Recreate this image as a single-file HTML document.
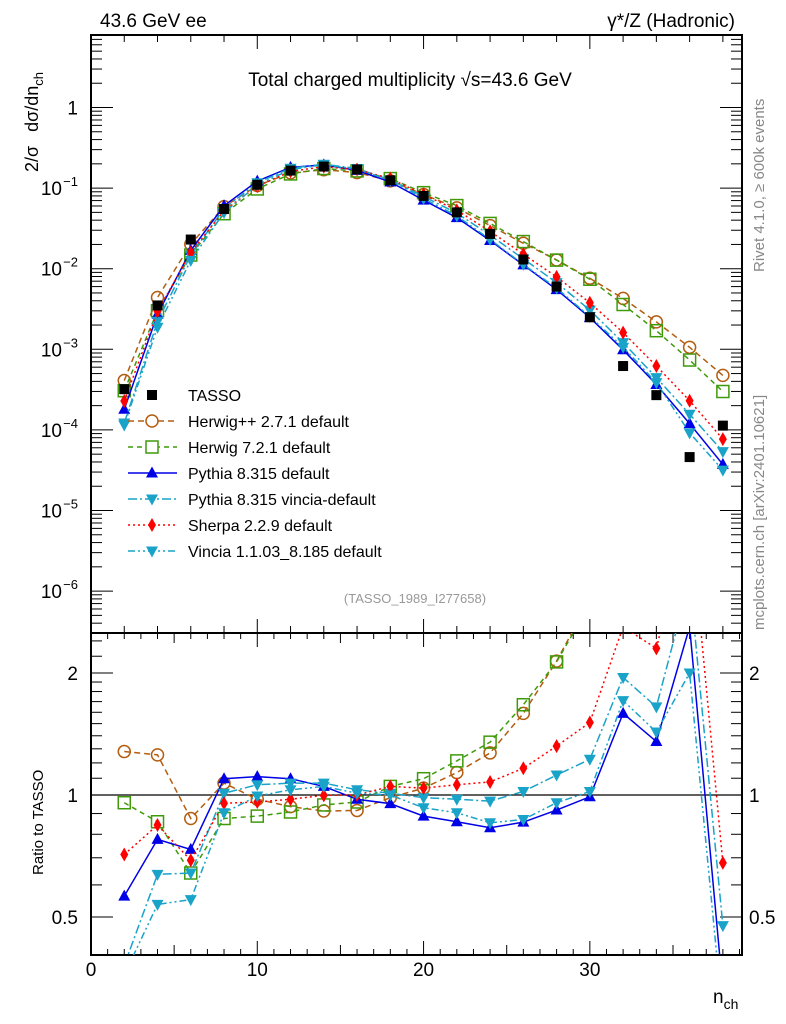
<!DOCTYPE html>
<html><head><meta charset="utf-8"><style>
html,body{margin:0;padding:0;background:#fff;}
svg{display:block;font-family:"Liberation Sans",sans-serif;}
</style></head><body>
<svg id="chart" width="786" height="1024" viewBox="0 0 786 1024" xmlns="http://www.w3.org/2000/svg">
<defs>
<clipPath id="clipMain"><rect x="91" y="35" width="651" height="598"/></clipPath>
<clipPath id="clipRatio"><rect x="91" y="633" width="651" height="322"/></clipPath>
</defs>
<rect x="91" y="35" width="651" height="598" fill="none" stroke="#000" stroke-width="2"/>
<rect x="91" y="633" width="651" height="322" fill="none" stroke="#000" stroke-width="2"/>
<g id="plotgroup"></g>
<text x="100" y="27" font-size="19">43.6 GeV ee</text>
<text x="735" y="27" font-size="19" text-anchor="end">γ*/Z (Hadronic)</text>
<text x="410" y="86" font-size="19" text-anchor="middle">Total charged multiplicity √s=43.6 GeV</text>
<text transform="translate(38,172) rotate(-90)" font-size="18"><tspan>2/σ</tspan><tspan dx="14">dσ/dn</tspan><tspan font-size="13" dy="5">ch</tspan></text>
<text transform="translate(43,875) rotate(-90)" font-size="15">Ratio to TASSO</text>
<text transform="translate(764,272) rotate(-90)" font-size="15" fill="#888">Rivet 4.1.0, ≥ 600k events</text>
<text transform="translate(764,630) rotate(-90)" font-size="15" fill="#888">mcplots.cern.ch [arXiv:2401.10621]</text>
<text x="415" y="603" font-size="13" fill="#999" text-anchor="middle">(TASSO_1989_I277658)</text>
<text x="713" y="1003" font-size="19">n<tspan font-size="14" dy="6">ch</tspan></text>
</svg>
<script>
var xVals = [2,4,6,8,10,12,14,16,18,20,22,24,26,28,30,32,34,36,38];
var tassoVals = [3.2e-4,3.5e-3,2.3e-2,5.5e-2,0.11,0.165,0.185,0.17,0.125,0.08,0.05,0.027,0.013,0.006,0.0025,6.2e-4,2.7e-4,4.6e-5,1.13e-4];
var herwigppRatio = [1.28,1.256,0.875,1.07,0.976,0.936,0.913,0.916,0.985,1.04,1.136,1.27,1.59,2.14,3.04,6.9,8.1,23,4.2];
var herwig7Ratio = [0.957,0.859,0.642,0.875,0.887,0.908,0.945,0.961,1.05,1.097,1.214,1.35,1.67,2.13,2.96,5.8,6.3,16,2.65];
var pythiaRatio = [0.563,0.777,0.734,1.097,1.11,1.097,1.05,0.976,0.952,0.887,0.859,0.83,0.857,0.918,0.99,1.59,1.355,2.6,0.33];
var pythiaVinciaRatio = [0.38,0.637,0.642,1.01,1.06,1.07,1.07,1.03,1.01,0.985,0.976,0.966,1.02,1.12,1.225,1.95,1.65,3.4,0.476];
var sherpaRatio = [0.713,0.843,0.69,0.954,0.961,0.976,0.998,1.0,1.05,1.04,1.06,1.077,1.164,1.32,1.51,2.6,2.3,5.0,0.68];
var vinciaRatio = [0.36,0.537,0.552,0.904,0.994,1.03,1.05,1.01,1.0,0.93,0.904,0.854,0.87,0.957,1.02,1.71,1.43,2.0,0.28];
var xTickLabels = [0,10,20,30];
var yDecades = [0,-1,-2,-3,-4,-5,-6];
var ratioLabels = [0.5,1,2];

(function(){
var NSU='http://www.w3.org/2000/svg';
var root=document.getElementById('plotgroup');
var PL=91,PR=742,PT=35,PMB=633,PRB=955;
function xs(v){return PL+v*(PR-PL)/39.15;}
function ym(v){return 107.5-80.6*Math.log(v)/Math.LN10;}
function yr(v){return 795-122*Math.log(v)/Math.LN2;}
function mk(tag,attrs,parent){var el=document.createElementNS(NSU,tag);for(var k in attrs){el.setAttribute(k,String(attrs[k]));}(parent||root).appendChild(el);return el;}
function txt(x,y,size,anchor,content,parent){var el=mk('text',{x:x,y:y,'font-size':size,'text-anchor':anchor},parent);el.textContent=content;return el;}

try{
var tk=mk('g',{stroke:'#000','stroke-width':1});


for(var v=1;v<=39;v++){
  var X=xs(v);var major=v%10===0;var med=v%2===0;
  var lm=major?14:(med?7:0);
  if(lm){mk('line',{x1:X,y1:PT,x2:X,y2:PT+lm},tk);mk('line',{x1:X,y1:PMB,x2:X,y2:PMB-lm},tk);}
  var lr=major?14:(v%5===0?10:6);
  mk('line',{x1:X,y1:PMB,x2:X,y2:PMB+lr},tk);mk('line',{x1:X,y1:PRB,x2:X,y2:PRB-lr},tk);
}
for(var d=-7;d<=0;d++){for(var m=1;m<=9;m++){var val=m*Math.pow(10,d);var Y=ym(val);if(Y<PT||Y>PMB)continue;
 var len=m===1?22:11;mk('line',{x1:PL,y1:Y,x2:PL+len,y2:Y},tk);mk('line',{x1:PR,y1:Y,x2:PR-len,y2:Y},tk);}}
[0.4,0.5,0.6,0.7,0.8,0.9,1,1.1,1.2,1.3,1.4,1.5,1.6,1.7,1.8,1.9,2,2.2,2.4].forEach(function(rv){var Yr=yr(rv);if(Yr<PMB||Yr>PRB)return;
 var ln=(rv===0.5||rv===1||rv===2)?22:11;mk('line',{x1:PL,y1:Yr,x2:PL+ln,y2:Yr},tk);mk('line',{x1:PR,y1:Yr,x2:PR-ln,y2:Yr},tk);});
}catch(err){}

try{
xTickLabels.forEach(function(v){var el=txt(xs(v),976,19,'middle',String(v));

});
yDecades.forEach(function(d){var Y=ym(Math.pow(10,d));var el;
 if(d===0){el=txt(78,Y+7,19,'end','1');}
 else{el=txt(62,Y+7,19,'end','10');var sp=txt(78,Y-2,13,'end','\u2212'+(-d));
  
  }
 
 });
ratioLabels.forEach(function(v){[[78,'end'],[749,'start']].forEach(function(p){var el=txt(p[0],yr(v)+7,19,p[1],String(v));
 
 });});
var refl=mk('line',{x1:PL,y1:yr(1),x2:PR,y2:yr(1),stroke:'#000','stroke-width':1.3});


}catch(err){}

function marker(p,type,color,x,y){
  if(type==='sq')return mk('rect',{x:x-5,y:y-5,width:10,height:10,fill:'#000'},p);
  if(type==='circ')return mk('circle',{cx:x,cy:y,r:6,fill:'none',stroke:color,'stroke-width':1.5},p);
  if(type==='osq')return mk('rect',{x:x-6,y:y-6,width:12,height:12,fill:'none',stroke:color,'stroke-width':1.5},p);
  if(type==='up')return mk('polygon',{points:x+','+(y-6.5)+' '+(x-6)+','+(y+4.5)+' '+(x+6)+','+(y+4.5),fill:color},p);
  if(type==='down')return mk('polygon',{points:x+','+(y+6.5)+' '+(x-6)+','+(y-4.5)+' '+(x+6)+','+(y-4.5),fill:color},p);
  return mk('polygon',{points:x+','+(y-7)+' '+(x-4)+','+y+' '+x+','+(y+7)+' '+(x+4)+','+y,fill:color},p);
}
var seriesList=[
 {name:'herwigpp',ratio:herwigppRatio,color:'#b35d10',type:'circ',dash:'6,4',label:'Herwig++ 2.7.1 default'},
 {name:'herwig7',ratio:herwig7Ratio,color:'#3f9a0a',type:'osq',dash:'5,4',label:'Herwig 7.2.1 default'},
 {name:'pythia',ratio:pythiaRatio,color:'#0000e6',type:'up',dash:'none',label:'Pythia 8.315 default'},
 {name:'pythia-vincia',ratio:pythiaVinciaRatio,color:'#1aa3c8',type:'down',dash:'9,3,2,3',label:'Pythia 8.315 vincia-default'},
 {name:'sherpa',ratio:sherpaRatio,color:'#ff0000',type:'dia',dash:'2,3',label:'Sherpa 2.2.9 default'},
 {name:'vincia',ratio:vinciaRatio,color:'#1aa3c8',type:'down',dash:'7,3,2,3,2,3',label:'Vincia 1.1.03_8.185 default'}
];
try{
seriesList.forEach(function(s){
  var mg=mk('g',{'clip-path':'url(#clipMain)'});
  
  
  var rg=mk('g',{'clip-path':'url(#clipRatio)'});
  
  
  var pm=xVals.map(function(x,i){return xs(x)+','+ym(tassoVals[i]*s.ratio[i]);}).join(' ');
  var pr=xVals.map(function(x,i){return xs(x)+','+yr(s.ratio[i]);}).join(' ');
  mk('polyline',{points:pm,fill:'none',stroke:s.color,'stroke-width':1.5,'stroke-dasharray':s.dash},mg);
  mk('polyline',{points:pr,fill:'none',stroke:s.color,'stroke-width':1.5,'stroke-dasharray':s.dash},rg);
  xVals.forEach(function(x,i){
    var a=marker(mg,s.type,s.color,xs(x),ym(tassoVals[i]*s.ratio[i]));
    
    
    var b=marker(rg,s.type,s.color,xs(x),yr(s.ratio[i]));
    
    
  });
});
var dg=mk('g',{'clip-path':'url(#clipMain)'});


xVals.forEach(function(x,i){var mm=marker(dg,'sq','#000',xs(x),ym(tassoVals[i]));
 
 });
}catch(err){}

try{
var lg=mk('g',{});


var rowY=[395,421,447,473,499,525,551];
var e0=mk('g',{},lg);


marker(e0,'sq','#000',152,rowY[0]);
txt(188,rowY[0]+6,16,'start','TASSO',e0);
seriesList.forEach(function(s,i){var y=rowY[i+1];
  var eg=mk('g',{},lg);
  
  
  mk('line',{x1:128,y1:y,x2:177,y2:y,stroke:s.color,'stroke-width':1.5,'stroke-dasharray':s.dash},eg);
  var mm=marker(eg,s.type,s.color,152,y);if(s.type==='circ'||s.type==='osq')mm.setAttribute('fill','#fff');
  txt(188,y+6,16,'start',s.label,eg);});
}catch(err){}
})();
</script>
</body></html>
